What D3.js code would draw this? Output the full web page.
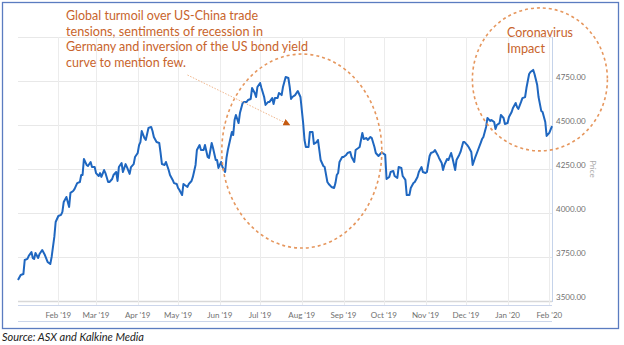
<!DOCTYPE html>
<html><head><meta charset="utf-8">
<script src="https://cdn.jsdelivr.net/npm/d3@7"></script>
<style>body{margin:0;background:#fff}svg{display:block}</style>
</head><body>
<svg id="c" width="624" height="345"></svg>
<script>
const dates = ["2019-01-02","2019-01-04","2019-01-06","2019-01-07","2019-01-09","2019-01-10","2019-01-12","2019-01-13","2019-01-14","2019-01-15","2019-01-17","2019-01-18","2019-01-20","2019-01-22","2019-01-24","2019-01-26","2019-01-27","2019-01-29","2019-01-30",
"2019-02-01","2019-02-03","2019-02-04","2019-02-05","2019-02-07","2019-02-08","2019-02-09","2019-02-10","2019-02-12","2019-02-13","2019-02-15","2019-02-17","2019-02-18","2019-02-19","2019-02-20","2019-02-22","2019-02-23","2019-02-25","2019-02-26","2019-02-28",
"2019-03-01","2019-03-03","2019-03-04","2019-03-05","2019-03-07","2019-03-08","2019-03-10","2019-03-11","2019-03-13","2019-03-14","2019-03-16","2019-03-17","2019-03-18","2019-03-20","2019-03-21","2019-03-23","2019-03-24","2019-03-26","2019-03-27","2019-03-29","2019-03-30",
"2019-04-01","2019-04-02","2019-04-03","2019-04-04","2019-04-06","2019-04-07","2019-04-09","2019-04-11","2019-04-12","2019-04-13","2019-04-15","2019-04-17","2019-04-18","2019-04-19","2019-04-21","2019-04-22","2019-04-24","2019-04-25","2019-04-27","2019-04-28","2019-04-30",
"2019-05-01","2019-05-02","2019-05-04","2019-05-05","2019-05-06","2019-05-08","2019-05-09","2019-05-11","2019-05-12","2019-05-14","2019-05-15","2019-05-17","2019-05-18","2019-05-20","2019-05-21","2019-05-23","2019-05-24","2019-05-26","2019-05-27","2019-05-29","2019-05-30","2019-05-31",
"2019-06-02","2019-06-03","2019-06-05","2019-06-06","2019-06-07","2019-06-09","2019-06-10","2019-06-11","2019-06-12","2019-06-13","2019-06-15","2019-06-16","2019-06-18","2019-06-19","2019-06-21","2019-06-22","2019-06-24","2019-06-25","2019-06-27","2019-06-28","2019-06-29",
"2019-07-01","2019-07-02","2019-07-04","2019-07-05","2019-07-07","2019-07-08","2019-07-10","2019-07-11","2019-07-12","2019-07-14","2019-07-15","2019-07-17","2019-07-18","2019-07-20","2019-07-22","2019-07-23","2019-07-24","2019-07-25","2019-07-27","2019-07-29","2019-07-31",
"2019-08-01","2019-08-02","2019-08-03","2019-08-04","2019-08-06","2019-08-07","2019-08-09","2019-08-10","2019-08-12","2019-08-13","2019-08-14","2019-08-15","2019-08-17","2019-08-18","2019-08-20","2019-08-21","2019-08-23","2019-08-25","2019-08-26","2019-08-27","2019-08-28","2019-08-29","2019-08-31",
"2019-09-01","2019-09-03","2019-09-04","2019-09-06","2019-09-07","2019-09-09","2019-09-10","2019-09-12","2019-09-13","2019-09-15","2019-09-16","2019-09-18","2019-09-19","2019-09-21","2019-09-22","2019-09-24","2019-09-25","2019-09-27","2019-09-29","2019-09-30",
"2019-10-02","2019-10-03","2019-10-05","2019-10-06","2019-10-08","2019-10-09","2019-10-11","2019-10-12","2019-10-14","2019-10-15","2019-10-17","2019-10-18","2019-10-20","2019-10-21","2019-10-23","2019-10-24","2019-10-26","2019-10-27","2019-10-29","2019-10-30",
"2019-11-01","2019-11-02","2019-11-04","2019-11-05","2019-11-07","2019-11-08","2019-11-10","2019-11-11","2019-11-13","2019-11-14","2019-11-15","2019-11-17","2019-11-18","2019-11-20","2019-11-21","2019-11-23","2019-11-24","2019-11-26","2019-11-27","2019-11-29","2019-11-30",
"2019-12-02","2019-12-03","2019-12-05","2019-12-06","2019-12-08","2019-12-10","2019-12-12","2019-12-13","2019-12-14","2019-12-16","2019-12-17","2019-12-19","2019-12-20","2019-12-22","2019-12-23","2019-12-24","2019-12-26","2019-12-27","2019-12-29","2019-12-30",
"2020-01-01","2020-01-02","2020-01-04","2020-01-05","2020-01-07","2020-01-08","2020-01-09","2020-01-11","2020-01-12","2020-01-14","2020-01-15","2020-01-17","2020-01-18","2020-01-20","2020-01-21","2020-01-23","2020-01-24","2020-01-26","2020-01-27","2020-01-29","2020-01-30",
"2020-02-01","2020-02-03"];
const prices = [3619,3648,3653,3733,3739,3756,3778,3744,3739,3773,3744,3767,3790,3761,3722,3710,3750,3864,3949,
3983,3989,4006,4063,4091,4063,4034,4114,4125,4136,4170,4176,4216,4216,4307,4273,4267,4290,4261,4261,
4227,4210,4227,4205,4244,4227,4176,4176,4193,4216,4233,4182,4261,4284,4233,4278,4261,4222,4261,4278,4318,
4341,4386,4403,4466,4426,4415,4483,4489,4466,4432,4403,4398,4341,4278,4273,4290,4244,4216,4188,4170,4165,
4142,4131,4102,4165,4159,4148,4165,4182,4205,4273,4358,4386,4358,4358,4386,4318,4313,4398,4369,4301,4301,4256,
4290,4261,4233,4313,4358,4426,4460,4443,4528,4557,4511,4568,4625,4631,4631,4642,4648,4710,4682,4659,4716,
4739,4710,4659,4614,4631,4631,4653,4619,4653,4653,4682,4670,4716,4773,4767,4716,4648,4659,4670,4693,4659,
4585,4511,4415,4375,4375,4460,4460,4392,4403,4415,4358,4301,4267,4261,4176,4165,4148,4142,4170,4216,4227,4290,4318,
4318,4330,4341,4347,4318,4290,4358,4369,4375,4455,4420,4426,4415,4432,4426,4375,4341,4324,4341,4341,
4330,4193,4205,4233,4239,4210,4199,4261,4256,4210,4188,4102,4102,4142,4170,4176,4205,4233,4261,4233,
4227,4233,4324,4341,4347,4358,4330,4313,4284,4244,4273,4307,4301,4341,4313,4244,4301,4330,4347,4403,4403,
4386,4375,4347,4273,4318,4358,4398,4420,4432,4489,4540,4523,4528,4517,4477,4500,4511,4557,4540,4506,
4511,4545,4574,4597,4625,4602,4591,4631,4653,4659,4710,4790,4801,4813,4790,4727,4659,4580,4574,4517,4438,
4455,4494];
const yTicks = [3500,3750,4000,4250,4500,4750,5000];
const annotationLines = ["Global turmoil over US-China trade","tensions, sentiments of recession in","Germany and inversion of the US bond yield","curve to mention few."];
const coronaLines = ["Coronavirus","Impact"];
const sourceText = "Source: ASX and Kalkine Media";

const parse = d3.timeParse("%Y-%m-%d");
const data = dates.map((d,i)=>({date:parse(d), v:prices[i]}));
const svg = d3.select("#c");
const L=18, R=552, T=37, B=301;
const x = d3.scaleTime().domain([parse("2019-01-02"), parse("2020-02-03")]).range([L,R]);
const y = d3.scaleLinear().domain([3500,5000]).range([B,T]);
const font = "Lato, 'Open Sans', sans-serif";

// frame
svg.append("rect").attr("x",2.5).attr("y",2.5).attr("width",616).attr("height",326)
  .attr("fill","none").attr("stroke","#5b7cc0").attr("stroke-width",1.3);

// horizontal grid
svg.append("g").selectAll("line").data(yTicks).join("line")
  .attr("x1",L).attr("x2",R).attr("y1",d=>Math.round(y(d))+0.5).attr("y2",d=>Math.round(y(d))+0.5)
  .attr("stroke",d=>d===3500?"#d8d8d8":"#e8e8e8").attr("stroke-width",d=>d===3500?1.5:1);

// vertical grid + x labels
const months = d3.timeMonth.range(parse("2019-02-01"), parse("2020-02-02"));
svg.append("g").selectAll("line").data(months).join("line")
  .attr("x1",d=>Math.round(x(d))+0.5).attr("x2",d=>Math.round(x(d))+0.5)
  .attr("y1",T).attr("y2",305).attr("stroke","#ececec");
const fmt = d3.timeFormat("%b '%y");
svg.append("g").selectAll("text").data(months).join("text")
  .attr("x",d=>x(d)).attr("y",318).attr("text-anchor","middle")
  .attr("font-family",font).attr("font-size",8).attr("fill","#707070").text(d=>fmt(d));

// navigator-ish band lines
svg.append("line").attr("x1",L).attr("x2",R).attr("y1",305.5).attr("y2",305.5).attr("stroke","#ccd6eb");
svg.append("line").attr("x1",L).attr("x2",R).attr("y1",321.5).attr("y2",321.5).attr("stroke","#ccd6eb");
// right axis line
svg.append("line").attr("x1",R+0.5).attr("x2",R+0.5).attr("y1",T).attr("y2",B+1).attr("stroke","#c5d3ea").attr("stroke-width",1);

// y labels
svg.append("g").selectAll("text").data(yTicks.filter(d=>d<5000)).join("text")
  .attr("x",R+4).attr("y",d=>y(d)-1).attr("font-family",font).attr("font-size",8).attr("fill","#707070")
  .text(d=>d3.format(".2f")(d));
svg.append("text").attr("transform",`translate(${R+38},${(T+B)/2}) rotate(90)`)
  .attr("text-anchor","middle").attr("font-family",font).attr("font-size",8).attr("fill","#aaaaaa").text("Price");

// line
svg.append("path").datum(data)
  .attr("d",d3.line().x(d=>x(d.date)).y(d=>y(d.v)))
  .attr("fill","none").attr("stroke","#1f67c0").attr("stroke-width",2).attr("stroke-linejoin","round");

// annotations
const orange = "#c8642c";
svg.append("ellipse").attr("cx",x(parse("2019-08-01"))).attr("cy",y(4352)).attr("rx",80).attr("ry",97)
  .attr("fill","none").attr("stroke","#e6975e").attr("stroke-width",1.6).attr("stroke-dasharray","3,3");
svg.append("ellipse").attr("cx",x(parse("2020-01-25"))).attr("cy",y(4759)).attr("rx",67.5).attr("ry",71.5)
  .attr("fill","none").attr("stroke","#e6975e").attr("stroke-width",1.6).attr("stroke-dasharray","3,3");

svg.append("defs").append("marker").attr("id","ah").attr("viewBox","0 0 10 10").attr("refX",9).attr("refY",5)
  .attr("markerWidth",7).attr("markerHeight",7).attr("markerUnits","userSpaceOnUse").attr("orient","auto")
  .append("path").attr("d","M0,0L10,5L0,10z").attr("fill","#c55a11");
svg.append("line").attr("x1",x(parse("2019-05-08"))).attr("y1",y(4784))
  .attr("x2",x(parse("2019-07-23"))).attr("y2",y(4500))
  .attr("stroke","#f0b68c").attr("stroke-width",1).attr("stroke-dasharray","1.5,1.5").attr("marker-end","url(#ah)");

const widths1=[192,197,242,120];
svg.append("g").selectAll("text").data(annotationLines).join("text")
  .attr("x",66).attr("y",(d,i)=>20+i*15.7).attr("font-family",font).attr("font-size",13.5).attr("fill",orange)
  .attr("textLength",(d,i)=>widths1[i]).attr("lengthAdjust","spacingAndGlyphs").text(d=>d);
const widths2=[66,38];
svg.append("g").selectAll("text").data(coronaLines).join("text")
  .attr("x",507).attr("y",(d,i)=>37+i*16).attr("font-family",font).attr("font-size",13.5).attr("fill",orange)
  .attr("textLength",(d,i)=>widths2[i]).attr("lengthAdjust","spacingAndGlyphs").text(d=>d);

svg.append("text").attr("x",2).attr("y",341).attr("font-family",font).attr("font-style","italic")
  .attr("font-size",11).attr("fill","#222").text(sourceText);
</script>
</body></html>
